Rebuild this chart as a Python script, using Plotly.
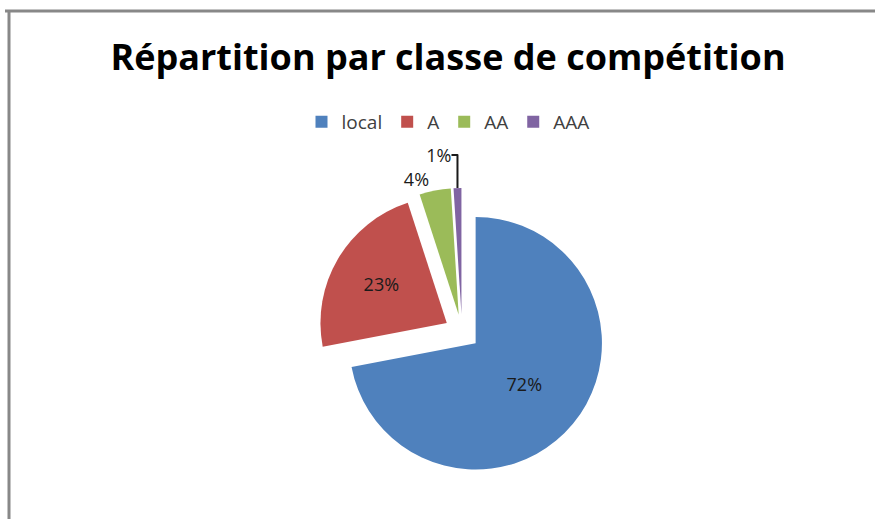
import plotly.graph_objects as go

categories = ["local", "A", "AA", "AAA"]
values = [72, 23, 4, 1]
colors = ["#4F81BD", "#C0504D", "#9BBB59", "#8064A2"]
title_text = "Répartition par classe de compétition"

W, H = 875, 519
cx, cy, half = 462, 332, 144

fig = go.Figure(go.Pie(
    labels=categories,
    values=values,
    sort=False,
    direction="clockwise",
    rotation=0,
    pull=[0.14] * len(values),
    marker=dict(colors=colors, line=dict(width=0)),
    texttemplate="%{percent:.0%}",
    textposition=["inside", "inside", "outside", "outside"],
    insidetextorientation="horizontal",
    textfont=dict(family="Open Sans, sans-serif", size=18, color="#1a1a1a"),
    domain=dict(x=[(cx - half) / W, (cx + half) / W], y=[1 - (cy + half) / H, 1 - (cy - half) / H]),
    hoverinfo="label+percent",
))

fig.update_layout(
    width=W, height=H,
    margin=dict(l=0, r=0, t=0, b=0),
    paper_bgcolor="white",
    plot_bgcolor="white",
    title=dict(text="<b>" + title_text + "</b>", x=448 / W, xanchor="center", y=1 - 57 / H, yanchor="middle",
               font=dict(family="Open Sans, sans-serif", size=36, color="#000000")),
    legend=dict(orientation="h", x=0.512, xanchor="center", y=1 - 122 / H, yanchor="middle",
                font=dict(family="Open Sans, sans-serif", size=19, color="#404040"),
                itemwidth=30, tracegroupgap=0),
    shapes=[
        dict(type="line", xref="paper", yref="paper", x0=5 / W, x1=1.0, y0=1 - 11 / H, y1=1 - 11 / H,
             line=dict(color="#888888", width=3)),
        dict(type="line", xref="paper", yref="paper", x0=9 / W, x1=9 / W, y0=1 - 11 / H, y1=0,
             line=dict(color="#888888", width=3)),
    ],
)

fig.write_html("out.html", config={"displayModeBar": False},
               post_script="document.body.style.margin='0';")
